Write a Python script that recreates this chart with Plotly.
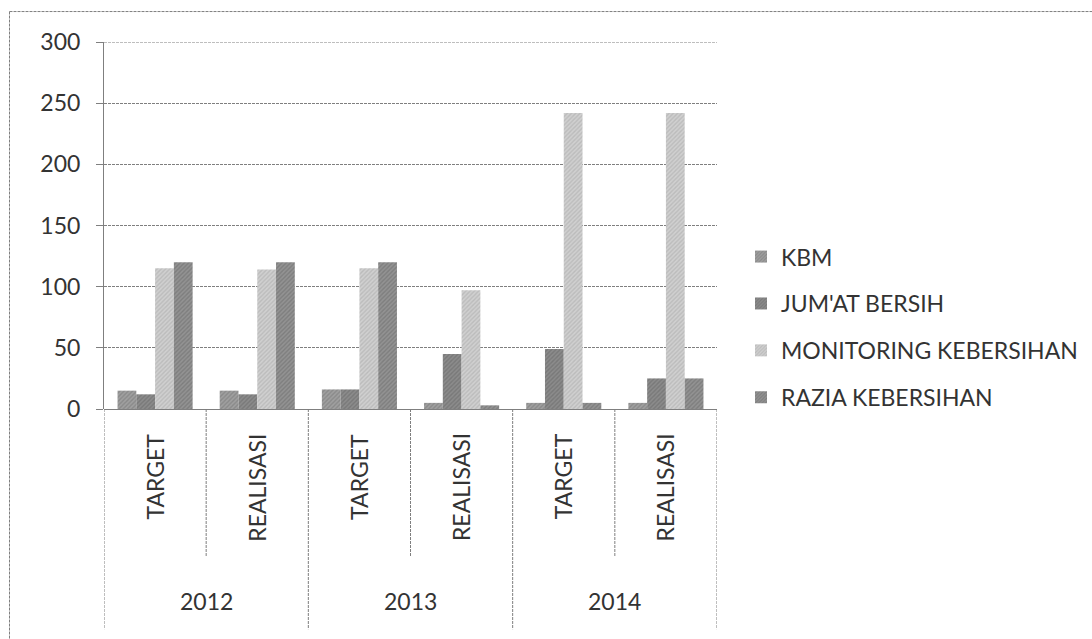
import plotly.graph_objects as go

years = ["2012", "2013", "2014"]
stages = ["TARGET", "REALISASI"]
categories = [f"{y} {s}" for y in years for s in stages]
stage_labels = [s for y in years for s in stages]

series_names = ["KBM", "JUM'AT BERSIH", "MONITORING KEBERSIHAN", "RAZIA KEBERSIHAN"]
kbm = [15, 15, 16, 5, 5, 5]
jumat = [12, 12, 16, 45, 49, 25]
monitoring = [115, 114, 115, 97, 242, 242]
razia = [120, 120, 120, 3, 5, 25]
series_values = [kbm, jumat, monitoring, razia]

y_ticks = [0, 50, 100, 150, 200, 250, 300]

base_colors = ["#a0a0a0", "#8c8c8c", "#d0d0d0", "#939393"]
fg_colors = ["#727272", "#636363", "#a6a6a6", "#686868"]

FONT = "Lato"
TXT = "#333333"
LINE = "#7f7f7f"
DASH = "3px,1px"
FS = 23

fig = go.Figure()
for name, vals, bc, fc in zip(series_names, series_values, base_colors, fg_colors):
    fig.add_trace(go.Bar(
        x=categories, y=vals, name=name, legendgroup=name,
        marker=dict(color=bc, line=dict(width=0),
                    pattern=dict(shape="/", fgcolor=fc, bgcolor=bc, size=3, solidity=0.45)),
    ))

W, H = 1092, 639
L, R, T, B = 104, 717, 42, 409.5
pw, ph = R - L, B - T

def py(pix):
    return (B - pix) / ph

def px(pix):
    return (pix - L) / pw

shapes = []
# top gridline at the maximum
shapes.append(dict(type="line", xref="paper", yref="y", x0=0, x1=1, y0=y_ticks[-1], y1=y_ticks[-1],
                   line=dict(color=LINE, width=1, dash=DASH)))
# separators below axis
for i in range(len(categories) + 1):
    xv = i - 0.5
    long = (i % 2 == 0)
    shapes.append(dict(type="line", xref="x", yref="paper", x0=xv, x1=xv,
                       y0=0, y1=py(630 if long else 557),
                       line=dict(color=LINE, width=1, dash=DASH)))
# outer border (left and top)
shapes.append(dict(type="line", xref="paper", yref="paper", x0=px(9.5), x1=px(9.5),
                   y0=py(11.5), y1=py(700), line=dict(color=LINE, width=1, dash=DASH)))
shapes.append(dict(type="line", xref="paper", yref="paper", x0=px(9.5), x1=px(1200),
                   y0=py(11.5), y1=py(11.5), line=dict(color=LINE, width=1, dash=DASH)))

annotations = []
for i, lab in enumerate(stage_labels):
    annotations.append(dict(x=i, y=py(432), xref="x", yref="paper", text=lab,
                            textangle=-90, showarrow=False, xanchor="center", yanchor="top",
                            font=dict(family=FONT, size=FS, color=TXT)))
for j, yr in enumerate(years):
    annotations.append(dict(x=2 * j + 0.5, y=py(602), xref="x", yref="paper", text=yr,
                            showarrow=False, xanchor="center", yanchor="middle",
                            font=dict(family=FONT, size=FS, color=TXT)))

fig.update_layout(
    width=W, height=H,
    margin=dict(l=L, r=W - R, t=T, b=H - B, pad=0, autoexpand=False),
    paper_bgcolor="white", plot_bgcolor="white",
    barmode="group", bargap=0.265, bargroupgap=0,
    font=dict(family=FONT, size=FS, color=TXT),
    showlegend=True,
    legend=dict(x=px(741), y=py(327.5), xanchor="left", yanchor="middle",
                traceorder="grouped", tracegroupgap=14,
                font=dict(family=FONT, size=FS, color=TXT),
                bgcolor="rgba(0,0,0,0)"),
    xaxis=dict(type="category", showticklabels=False, showgrid=False, zeroline=False,
               showline=False, ticks="", range=[-0.5, 5.5]),
    yaxis=dict(range=[0, 300], tickvals=y_ticks, showgrid=True, gridcolor=LINE,
               griddash=DASH, gridwidth=1, zeroline=True, zerolinecolor=LINE,
               zerolinewidth=1, showline=True, linecolor=LINE, linewidth=1,
               ticks="outside", ticklen=7, tickcolor=LINE,
               ticklabelstandoff=11,
               tickfont=dict(family=FONT, size=FS, color=TXT)),
    shapes=shapes, annotations=annotations,
)

fig.write_html("out.html", config={"displayModeBar": False},
               post_script="document.body.style.margin='0';document.body.style.overflow='hidden';")
